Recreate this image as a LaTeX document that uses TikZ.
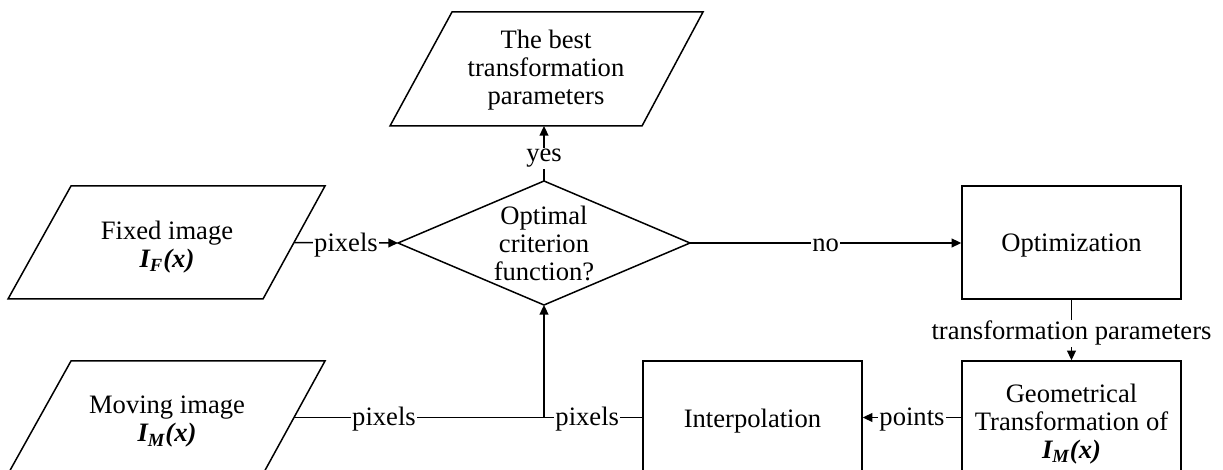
\documentclass[tikz,border=0pt]{standalone}
\usepackage{fontspec}
\setmainfont{Liberation Serif}
\usetikzlibrary{arrows.meta}
\newcommand{\imgsub}[1]{{\bfseries\itshape I\textsubscript{#1}(x)}}
\begin{document}
\begin{tikzpicture}[x=0.5pt,y=-0.5pt,
  txt/.style={font=\fontsize{13.3pt}{14pt}\selectfont, align=center, inner sep=0pt},
  shp/.style={draw, line width=0.75pt, line join=miter},
  box/.style={draw, line width=0.75pt, minimum width=109.5pt, minimum height=56.5pt, inner sep=0pt},
  conn/.style={draw, line width=0.75pt},
  arr/.style={-{Triangle[length=4.8pt,width=4.4pt]}},
  lbl/.style={fill=white, inner sep=0.6pt, yshift=-1pt, font=\fontsize{13.3pt}{14pt}\selectfont}]
\clip (0,0) rectangle (1223,470);
\useasboundingbox (0,0) rectangle (1223,470);

% best transformation parameters (parallelogram)
\draw[shp] (452,12) -- (703,12) -- (642,126) -- (390,126) -- cycle;
\node[txt] (best) at (546,70) {The best\\transformation\\parameters};
\coordinate (bestB) at (544,126);

% fixed image
\draw[shp] (71,186) -- (325,186) -- (263,299) -- (8,299) -- cycle;
\node[txt] (fixed) at (167,247) {Fixed image\\\imgsub{F}};
\coordinate (fixedR) at (294,242.5);

% moving image
\draw[shp] (71,361) -- (325,361) -- (263,474) -- (8,474) -- cycle;
\node[txt] (moving) at (167,422) {Moving image\\\imgsub{M}};
\coordinate (movingR) at (294,417.5);

% decision diamond
\draw[shp] (544,181) -- (690,243) -- (544,305) -- (398,243) -- cycle;
\node[txt] (crit) at (544,243) {Optimal\\criterion\\function?};
\coordinate (critT) at (544,181);
\coordinate (critL) at (398,243);
\coordinate (critR) at (690,243);
\coordinate (critB) at (544,305);

% boxes
\node[box] (opt) at (1071.5,242.5) {};
\node[txt] (optT) at (1071.5,246) {Optimization};
\node[box] (interp) at (752.5,417.5) {};
\node[txt] (interpT) at (752.5,421) {Interpolation};
\node[box] (geo) at (1071.5,417.5) {};
\node[txt] (geoT) at (1071.5,424) {Geometrical\\Transformation of\\\imgsub{M}};

\coordinate (junc) at (544,417.5);

% connectors
\draw[conn,arr] (critT) -- node[lbl,pos=0.45]{yes} (bestB);
\draw[conn,arr] (fixedR) -- node[lbl]{pixels} (critL);
\draw[conn,arr] (critR) -- node[lbl]{no} (opt.west |- critR);
\draw[conn,arr] (opt.south) -- node[lbl,pos=0.52]{transformation parameters} (geo.north);
\draw[conn,arr] (geo.west) -- node[lbl]{points} (interp.east);
\draw[conn] (movingR) -- node[lbl,pos=0.36]{pixels} (junc);
\draw[conn] (interp.west) -- node[lbl,pos=0.56]{pixels} (junc);
\draw[conn,arr] (junc) -- (critB);
\end{tikzpicture}
\end{document}
